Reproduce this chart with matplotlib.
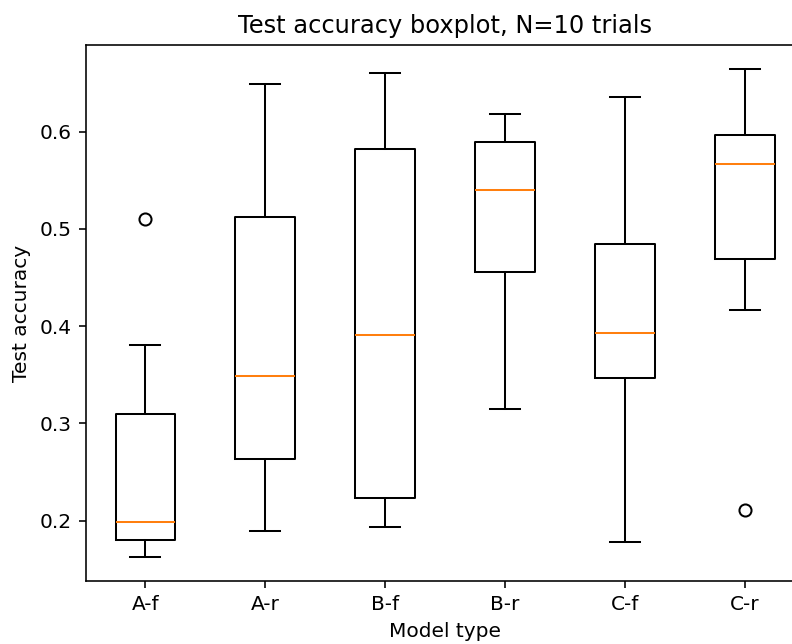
import matplotlib
matplotlib.use('Agg')
import matplotlib.pyplot as plt

# box statistics
models = ['A-f', 'A-r', 'B-f', 'B-r', 'C-f', 'C-r']
whislo = [0.163, 0.189, 0.193, 0.315, 0.178, 0.417]
q1 = [0.180, 0.263, 0.223, 0.456, 0.347, 0.469]
med = [0.199, 0.349, 0.391, 0.540, 0.393, 0.567]
q3 = [0.310, 0.512, 0.582, 0.589, 0.484, 0.597]
whishi = [0.381, 0.649, 0.660, 0.618, 0.636, 0.664]
fliers = [[0.510], [], [], [], [], [0.211]]

stats = []
for i, name in enumerate(models):
    stats.append({'label': name, 'whislo': whislo[i], 'q1': q1[i], 'med': med[i],
                  'q3': q3[i], 'whishi': whishi[i], 'fliers': fliers[i]})

dpi = 145
fig = plt.figure(figsize=(792 / dpi, 644 / dpi), dpi=dpi)
# the reference is cropped on the right, so the axes run past the edge
ax = fig.add_axes([0.108, 0.098, 0.908, 0.832])
ax.bxp(stats)
ax.set_xlabel('Model type')
ax.set_ylabel('Test accuracy')
ax.set_title('Test accuracy boxplot, N=10 trials')
fig.savefig('out.png', dpi=dpi)
